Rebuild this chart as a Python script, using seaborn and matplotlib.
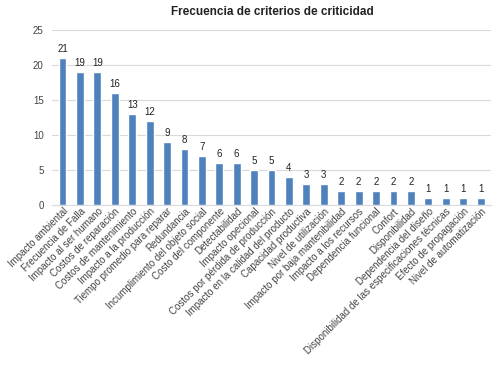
import pandas as pd
import matplotlib
matplotlib.use("Agg")
import matplotlib.pyplot as plt
import seaborn as sns

criterios = [
    "Impacto ambiental", "Frecuencia de Falla", "Impacto al ser humano",
    "Costos de reparación", "Costos de mantenimiento", "Impacto a la producción",
    "Tiempo promedio para reparar", "Redundancia", "Incumplimiento del objeto social",
    "Costo del componente", "Detectabilidad", "Impacto opecional",
    "Costos por pérdida de producción", "Impacto en la calidad del producto",
    "Capacidad productiva", "Nivel de utilización", "Impacto por baja mantenibilidad",
    "Impacto a los recursos", "Dependencia funcional", "Confort", "Disponibilidad",
    "Dependencia del diseño", "Disponibilidad de las especificaciones técnicas",
    "Efecto de propagación", "Nivel de automatización",
]
frecuencia = [21, 19, 19, 16, 13, 12, 9, 8, 7, 6, 6, 5, 5, 4, 3, 3, 2, 2, 2, 2, 2, 1, 1, 1, 1]

df = pd.DataFrame({"criterio": criterios, "frecuencia": frecuencia})

sns.set_style("white")
plt.rcParams['font.family'] = ['Liberation Sans', 'DejaVu Sans']

fig = plt.figure(figsize=(4.96, 3.70), dpi=100)
ax = fig.add_axes([0.105, 0.446, 0.885, 0.473])
sns.barplot(data=df, x="criterio", y="frecuencia", color="#4F81BD", width=0.45,
            saturation=1, ax=ax, zorder=3)

for i, v in enumerate(frecuencia):
    ax.text(i, v + 0.6, str(v), ha="center", va="bottom", fontsize=7, color="#222222")

ax.set_ylim(0, 25)
ax.set_yticks(range(0, 26, 5))
ax.yaxis.grid(True, color="#D9D9D9", linewidth=0.8, zorder=0)
ax.set_xlim(-0.6, len(criterios) - 0.4)
for s in ["top", "right", "left"]:
    ax.spines[s].set_visible(False)
ax.spines["bottom"].set_color("#D9D9D9")
ax.tick_params(axis="y", length=0, labelsize=7, colors="#444444", pad=6)
ax.tick_params(axis="x", length=0, labelsize=7, colors="#444444", pad=1)
plt.setp(ax.get_xticklabels(), rotation=45, ha="right", rotation_mode="anchor")
ax.set_xlabel("")
ax.set_ylabel("")
fig.suptitle("Frecuencia de criterios de criticidad", x=0.55, y=0.985,
             fontsize=8.5, fontweight="bold", color="#222222")

fig.savefig("out.png", dpi=100)
